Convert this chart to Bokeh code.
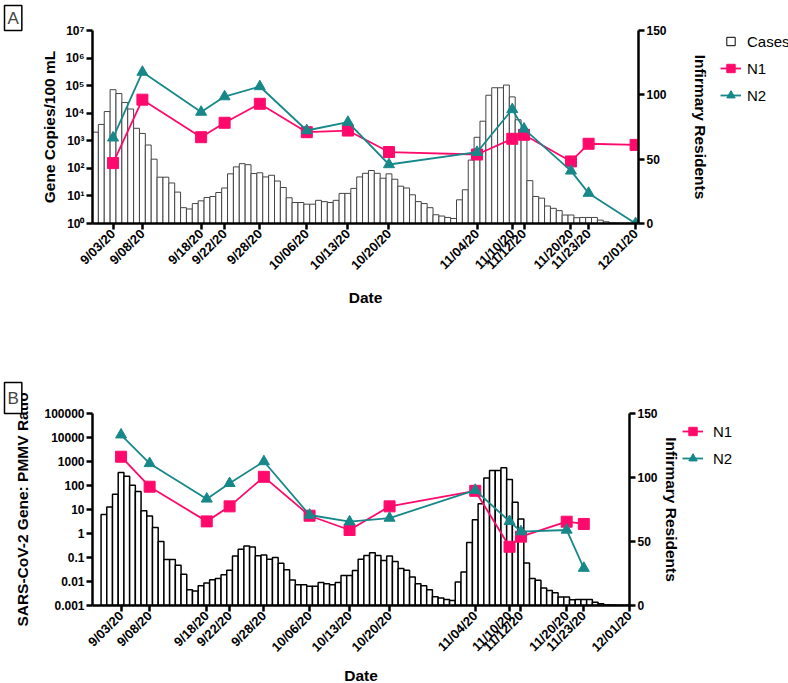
import pandas as pd
from math import pi
from bokeh.plotting import figure
from bokeh.models import (Range1d, LinearAxis, LinearScale, FixedTicker, CustomJSTickFormatter,
                          Legend, LegendItem, Title)
from bokeh.layouts import column, row
from bokeh.embed import file_html
from bokeh.resources import INLINE

# ---------------- data ----------------
case_start = "2020-08-31"
cases = [71, 77, 87, 104, 101, 94, 89, 74, 70, 61, 50, 36, 36, 31.5, 24.4, 12.3, 11.3, 15.5,
         17.6, 20.2, 21, 24.1, 27.6, 38.6, 44, 46.5, 45.7, 38.8, 39.4, 36.2, 37.5,
         33, 28, 20, 16.3, 16.3, 15, 15, 18, 17, 16.3, 18, 23.4, 23.4, 27.3, 36.2, 39, 41.2,
         39, 35.2, 38.6, 34.4, 29, 27.6, 22.3, 17, 15.5, 12.3, 6.8, 5.8, 4.7, 3.9,
         18.4, 26.2, 49.3, 67, 79.5, 99.7, 105.5, 105.5, 107.6, 98.4, 80.6, 67.5, 33.3, 21,
         19.7, 13.6, 11.8, 10, 6.6, 6.6, 4.5, 4.7, 4.7, 4.7, 2.6, 1.3, 0.5, 0.3, 0.2, 0.2, 0.2]

tick_dates = ["2020-09-03", "2020-09-08", "2020-09-18", "2020-09-22", "2020-09-28",
              "2020-10-06", "2020-10-13", "2020-10-20", "2020-11-04", "2020-11-10",
              "2020-11-12", "2020-11-20", "2020-11-23", "2020-12-01"]
tick_labels = ["9/03/20", "9/08/20", "9/18/20", "9/22/20", "9/28/20", "10/06/20",
               "10/13/20", "10/20/20", "11/04/20", "11/10/20", "11/12/20", "11/20/20",
               "11/23/20", "12/01/20"]

a_dates = tick_dates
a_n1 = [155, 31000, 1350, 4500, 22000, 2050, 2350, 390, 318, 1180, 1650, 178, 780, 710]
a_n2 = [1280, 310000, 11000, 40000, 93000, 2360, 4750, 138, 385, 13700, 2700, 81, 12.6, 1]

b_dates = tick_dates[:-1]
b_n1 = [1580, 89, 3.2, 13.5, 230, 5.5, 1.4, 13.5, 60, 0.28, 0.74, 3.1, 2.5]
b_n2 = [13000, 830, 27.6, 123, 1000, 5.9, 3.1, 4.4, 64, 3.2, 1.2, 1.4, 0.036]

N1_COLOR = "#FF0A6C"
N2_COLOR = "#17888A"
FONT = "Liberation Sans"

START = pd.Timestamp(case_start)


def day(s):
    return int((pd.Timestamp(s) - START).days)


case_x = [day(d) for d in pd.date_range(case_start, periods=len(cases))]
tick_x = [day(d) for d in tick_dates]


def style_axis(ax, label_size="12px"):
    ax.axis_line_width = 2.5
    ax.axis_line_color = "black"
    ax.major_tick_line_width = 2.5
    ax.major_tick_line_color = "black"
    ax.major_tick_out = 6
    ax.major_tick_in = 0
    ax.minor_tick_line_color = None
    ax.major_label_text_font = FONT
    ax.major_label_text_font_style = "bold"
    ax.major_label_text_font_size = label_size
    ax.major_label_text_color = "black"
    ax.axis_label_text_font = FONT
    ax.axis_label_text_font_style = "bold"
    ax.axis_label_text_font_size = "15.5px"
    ax.axis_label_text_color = "black"
    ax.major_label_standoff = 2


def make_panel(letter, xr, yr, frame_w, frame_h, borders, ylabel, yticks, yfmt,
               dates, n1, n2, bar_line, ylab_standoff, rlab_standoff, xlab_standoff,
               letter_pad):
    left, right, top, bottom = borders
    p = figure(frame_width=frame_w, frame_height=frame_h, x_range=Range1d(*xr),
               y_range=Range1d(*yr), y_axis_type="log", output_backend="svg",
               toolbar_location=None, min_border_left=left, min_border_right=right,
               min_border_top=top, min_border_bottom=bottom)
    p.outline_line_color = None
    p.xgrid.visible = False
    p.ygrid.visible = False
    p.extra_y_ranges = {"res": Range1d(0, 150)}
    p.extra_y_scales = {"res": LinearScale()}

    p.vbar(x=case_x, top=cases, bottom=0, width=1.0, y_range_name="res",
           fill_color="white", line_color=bar_line[0], line_width=bar_line[1])

    xs = [day(d) for d in dates]
    p.line(xs, n1, line_color=N1_COLOR, line_width=1.8)
    p.scatter(xs, n1, marker="square", size=11, fill_color=N1_COLOR, line_color=N1_COLOR)
    p.line(xs, n2, line_color=N2_COLOR, line_width=1.8)
    p.scatter(xs, n2, marker="triangle", size=11, fill_color=N2_COLOR, line_color=N2_COLOR)

    xa = p.xaxis[0]
    style_axis(xa, "13px")
    xa.ticker = FixedTicker(ticks=tick_x)
    xa.major_label_overrides = {k: v for k, v in zip(tick_x, tick_labels)}
    xa.major_label_orientation = pi / 4
    xa.axis_label = "Date"
    xa.axis_label_standoff = xlab_standoff

    ya = p.yaxis[0]
    style_axis(ya, "12px")
    ya.ticker = FixedTicker(ticks=yticks, minor_ticks=[])
    ya.formatter = yfmt
    ya.axis_label = ylabel
    ya.axis_label_standoff = ylab_standoff

    ra = LinearAxis(y_range_name="res", ticker=FixedTicker(ticks=[0, 50, 100, 150], minor_ticks=[]),
                    axis_label="Infirmary Residents")
    style_axis(ra, "12px")
    ra.axis_label_standoff = rlab_standoff
    p.add_layout(ra, "right")

    p.add_layout(Title(text=letter, align="left", offset=-88, standoff=0,
                       text_font=FONT, text_font_size="17px", text_font_style="normal",
                       border_line_color="black", border_line_width=1.5, padding=letter_pad,
                       background_fill_color="white"), "above")
    return p


def legend_panel(width, height, borders, dates, n1, n2, show_cases, padding, location,
                 standoff):
    left, top, bottom = borders
    lf = figure(width=width, height=height, output_backend="svg", toolbar_location=None,
                x_axis_location=None, y_axis_location=None, min_border_left=left,
                min_border_top=top, min_border_right=0, min_border_bottom=bottom,
                x_range=Range1d(-1000, -999), y_range=Range1d(-1000, -999))
    lf.outline_line_color = None
    lf.xgrid.visible = False
    lf.ygrid.visible = False
    xs = [day(d) for d in dates]
    items = []
    if show_cases:
        c = lf.scatter(x=case_x, y=cases, marker="square", fill_color="white",
                       line_color="black", line_width=1, visible=False)
        items.append(LegendItem(label="Cases", renderers=[c]))
    l1 = lf.line(x=xs, y=n1, line_color=N1_COLOR, line_width=1.8, visible=False)
    s1 = lf.scatter(x=xs, y=n1, marker="square", fill_color=N1_COLOR, line_color=N1_COLOR,
                    visible=False)
    l2 = lf.line(x=xs, y=n2, line_color=N2_COLOR, line_width=1.8, visible=False)
    s2 = lf.scatter(x=xs, y=n2, marker="triangle", fill_color=N2_COLOR, line_color=N2_COLOR,
                    visible=False)
    items.append(LegendItem(label="N1", renderers=[l1, s1]))
    items.append(LegendItem(label="N2", renderers=[l2, s2]))
    leg = Legend(items=items, location=location, border_line_color=None,
                 background_fill_alpha=0, label_text_font=FONT, label_text_font_size="15px",
                 label_text_color="black", glyph_width=21, glyph_height=22, spacing=5,
                 padding=padding, margin=0, label_standoff=standoff, inactive_fill_alpha=0)
    lf.add_layout(leg)
    return lf


fmt_pow = CustomJSTickFormatter(code="""
const sup = ['\\u2070','\\u00b9','\\u00b2','\\u00b3','\\u2074','\\u2075','\\u2076','\\u2077','\\u2078','\\u2079'];
const e = Math.round(Math.log10(tick));
return '10' + sup[e];
""")
fmt_dec = CustomJSTickFormatter(code="""
const e = Math.round(Math.log10(tick));
if (e >= 0) { return String(Math.pow(10, e)); }
return Math.pow(10, e).toFixed(-e);
""")

pa = make_panel("A", (-0.5, 92.5), (1, 1e7), 546, 193, (92, 72, 30, 107),
                "Gene Copies/100 mL", [10 ** k for k in range(0, 8)], fmt_pow,
                a_dates, a_n1, a_n2, ("#444444", 1.0), 4, 22, 8, 3)
la = legend_panel(78, 330, (9, 30, 107), a_dates, a_n1, a_n2, True, 0, "top_left", 6)

pb = make_panel("B", (-2, 92), (1e-3, 1e5), 537, 192, (92, 53, 83, 78),
                "SARS-CoV-2 Gene: PMMV Ratio", [10.0 ** k for k in range(-3, 6)], fmt_dec,
                b_dates, b_n1, b_n2, ("black", 1.5), 10, 2, 4, (3, 6))
lb = legend_panel(106, 353, (0, 83, 78), b_dates, b_n1, b_n2, False, 2, (0, 133), 10)

layout = column(row(pa, la, spacing=0), row(pb, lb, spacing=0), spacing=0)
with open("out.html", "w", encoding="utf-8") as f:
    f.write(file_html(layout, INLINE))
